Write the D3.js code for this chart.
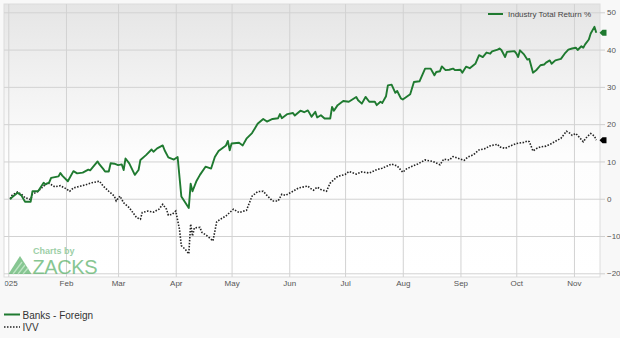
<!DOCTYPE html>
<html>
<head>
<meta charset="utf-8">
<script src="https://cdn.jsdelivr.net/npm/d3@7"></script>
<style>
  body { margin: 0; background: #f8f8f8; }
  svg { display: block; font-family: "Liberation Sans", Arial, sans-serif; }
  .axis text { fill: #555; font-size: 8px; }
  .axis path { display: none; }
  .grid line { stroke: #d2d2d2; stroke-width: 1; }
  .grid path { display: none; }
</style>
</head>
<body>
<div id="chart"></div>
<script>
// Banks - Foreign, industry total return %
var bankDates = ["2025-01-02","2025-01-03","2025-01-06","2025-01-08","2025-01-10","2025-01-13","2025-01-14","2025-01-17",
  "2025-01-20","2025-01-21","2025-01-23","2025-01-24","2025-01-28","2025-01-29","2025-01-30","2025-02-02","2025-02-05",
  "2025-02-07","2025-02-10","2025-02-13","2025-02-14","2025-02-18","2025-02-19","2025-02-21","2025-02-22","2025-02-24",
  "2025-02-25","2025-02-27","2025-03-01","2025-03-03","2025-03-04","2025-03-05","2025-03-07","2025-03-10","2025-03-12",
  "2025-03-13","2025-03-16","2025-03-19","2025-03-20","2025-03-22","2025-03-25","2025-03-26","2025-03-28","2025-03-31",
  "2025-04-02","2025-04-04","2025-04-08","2025-04-09","2025-04-10","2025-04-12","2025-04-14","2025-04-17","2025-04-20",
  "2025-04-22","2025-04-24","2025-04-28","2025-04-29","2025-04-30","2025-05-01","2025-05-05","2025-05-07","2025-05-09",
  "2025-05-12","2025-05-15","2025-05-18","2025-05-20","2025-05-23","2025-05-26","2025-05-27","2025-05-28","2025-05-31",
  "2025-06-03","2025-06-04","2025-06-07","2025-06-09","2025-06-11","2025-06-13","2025-06-15","2025-06-16","2025-06-18",
  "2025-06-20","2025-06-23","2025-06-24","2025-06-25","2025-06-27","2025-06-30","2025-07-03","2025-07-07","2025-07-08",
  "2025-07-10","2025-07-12","2025-07-14","2025-07-17","2025-07-18","2025-07-20","2025-07-21","2025-07-23","2025-07-24",
  "2025-07-26","2025-07-28","2025-07-29","2025-07-31","2025-08-01","2025-08-05","2025-08-07","2025-08-10","2025-08-13",
  "2025-08-16","2025-08-18","2025-08-19","2025-08-21","2025-08-22","2025-08-24","2025-08-26","2025-08-28","2025-08-29",
  "2025-09-01","2025-09-02","2025-09-04","2025-09-06","2025-09-09","2025-09-11","2025-09-13","2025-09-15","2025-09-17",
  "2025-09-18","2025-09-21","2025-09-22","2025-09-23","2025-09-25","2025-09-26","2025-09-30","2025-10-01","2025-10-02",
  "2025-10-03","2025-10-05","2025-10-07","2025-10-08","2025-10-10","2025-10-12","2025-10-14","2025-10-16","2025-10-17",
  "2025-10-19","2025-10-20","2025-10-22","2025-10-25","2025-10-27","2025-10-29","2025-10-31","2025-11-02","2025-11-03",
  "2025-11-05","2025-11-06","2025-11-07","2025-11-09","2025-11-10","2025-11-12","2025-11-13"];
var bankValues = [-0.2,0.4,1.6,0.9,-0.8,-0.8,2.0,2.0,
  4.3,3.8,4.4,5.6,6.0,6.9,6.2,4.7,7.4,
  6.8,7.0,7.8,7.6,10.0,9.2,8.0,7.3,7.3,
  9.5,9.4,9.0,9.2,7.7,10.8,9.5,6.4,7.7,
  10.4,11.7,13.2,12.6,13.5,14.3,13.0,11.1,10.5,
  11.2,0.6,-2.5,4.0,2.0,4.6,6.4,8.6,8.1,
  11.2,12.8,14.3,15.5,13.0,14.8,15.0,14.3,16.1,
  17.6,20.1,21.4,20.7,21.4,21.6,22.7,21.6,22.7,
  23.0,22.3,23.6,23.2,23.7,22.0,23.3,21.8,22.4,
  21.5,21.5,24.6,23.6,25.1,26.2,26.0,27.3,26.4,
  25.5,27.3,26.0,26.0,25.1,26.0,25.7,27.5,30.4,
  30.6,28.4,28.9,26.9,26.6,28.0,31.3,31.5,34.9,
  34.9,33.1,34.0,34.2,35.5,34.5,34.6,34.9,34.5,
  34.6,33.8,35.4,35.0,36.2,38.5,38.0,39.2,38.9,
  39.5,40.0,40.3,39.9,38.0,39.4,39.6,39.0,38.0,
  39.8,38.8,37.3,37.5,33.8,34.6,35.8,36.0,36.5,
  37.1,36.2,37.1,37.5,38.9,40.0,40.3,40.5,39.9,
  40.9,40.5,41.4,42.7,44.3,46.1,44.5];

// IVV total return %
var ivvDates = ["2025-01-02","2025-01-03","2025-01-06","2025-01-08","2025-01-10","2025-01-13","2025-01-14","2025-01-17",
  "2025-01-20","2025-01-22","2025-01-24","2025-01-26","2025-01-29","2025-02-01","2025-02-03","2025-02-05","2025-02-09",
  "2025-02-12","2025-02-15","2025-02-19","2025-02-21","2025-02-24","2025-02-27","2025-02-28","2025-03-02","2025-03-04",
  "2025-03-07","2025-03-11","2025-03-13","2025-03-14","2025-03-17","2025-03-20","2025-03-23","2025-03-25","2025-03-27",
  "2025-03-28","2025-03-30","2025-04-01","2025-04-03","2025-04-04","2025-04-06","2025-04-08","2025-04-09","2025-04-10",
  "2025-04-11","2025-04-14","2025-04-15","2025-04-18","2025-04-21","2025-04-23","2025-04-25","2025-04-28","2025-05-02",
  "2025-05-05","2025-05-09","2025-05-12","2025-05-15","2025-05-18","2025-05-20","2025-05-23","2025-05-26","2025-05-28",
  "2025-05-30","2025-06-03","2025-06-06","2025-06-11","2025-06-12","2025-06-14","2025-06-16","2025-06-18","2025-06-21",
  "2025-06-23","2025-06-27","2025-07-01","2025-07-03","2025-07-07","2025-07-10","2025-07-14","2025-07-18","2025-07-21",
  "2025-07-26","2025-07-29","2025-08-01","2025-08-03","2025-08-06","2025-08-09","2025-08-13","2025-08-17","2025-08-19",
  "2025-08-21","2025-08-23","2025-08-26","2025-08-28","2025-08-31","2025-09-03","2025-09-05","2025-09-08","2025-09-11",
  "2025-09-14","2025-09-17","2025-09-21","2025-09-22","2025-09-25","2025-09-28","2025-10-01","2025-10-05","2025-10-07",
  "2025-10-08","2025-10-10","2025-10-12","2025-10-14","2025-10-17","2025-10-20","2025-10-22","2025-10-25","2025-10-28",
  "2025-10-30","2025-10-31","2025-11-02","2025-11-04","2025-11-06","2025-11-08","2025-11-10","2025-11-12","2025-11-13"];
var ivvValues = [0,0.9,1.8,1.2,0.3,-0.2,1.2,2.0,
  3.4,4.3,3.8,3.2,3.5,2.7,2.0,2.9,3.4,
  3.8,4.3,4.7,3.4,2.0,0.7,-0.6,0.7,-1.1,
  -2.4,-5.1,-5.5,-3.7,-3.3,-3.6,-2.8,-1.5,-2.8,
  -4.4,-4.2,-3.3,-8.2,-12.6,-13.5,-14.8,-6.8,-10.0,
  -7.8,-7.7,-9.0,-10.0,-11.3,-6.2,-5.5,-4.6,-2.8,
  -3.7,-3.1,0.7,1.9,2.0,0.9,-0.6,-0.6,1.2,
  0.9,2.0,2.9,3.4,2.9,2.3,3.1,2.5,2.0,
  4.2,6.0,6.5,7.3,6.6,7.2,6.9,7.8,8.2,
  9.3,8.8,7.1,8.0,8.7,9.3,10.4,10.0,9.6,
  9.1,10.6,10.4,11.3,10.8,10.3,11.2,11.8,13.1,
  13.4,14.2,14.6,13.9,13.5,14.2,14.8,15.1,15.5,
  15.3,12.8,13.5,13.9,14.1,14.8,15.4,16.2,18.1,
  17.5,17.0,17.5,16.4,15.3,16.6,17.5,16.8,15.7];

var yTicks = [-20, -10, 0, 10, 20, 30, 40, 50];
var monthLabels = ["2025", "Feb", "Mar", "Apr", "May", "Jun", "Jul", "Aug", "Sep", "Oct", "Nov"];
var seriesNames = ["Banks - Foreign", "IVV"];

var width = 620, height = 338;
var frame = {x1: 4, y1: 4, x2: 600, y2: 277};
var green = "#1f7a30", dark = "#222";

var parse = d3.timeParse("%Y-%m-%d");
var bank = bankDates.map(function(d, i) { return {date: parse(d), value: bankValues[i]}; });
var ivv = ivvDates.map(function(d, i) { return {date: parse(d), value: ivvValues[i]}; });

var x = d3.scaleTime().domain([new Date(2025, 0, 1), new Date(2025, 10, 15)]).range([8.3, frame.x2]);
var y = d3.scaleLinear().domain([-20, 50]).range([273.3, 12.3]);

var svg = d3.select("#chart").append("svg").attr("width", width).attr("height", height);

var defs = svg.append("defs");
var grad = defs.append("linearGradient").attr("id", "bg").attr("x1", 0).attr("y1", 0).attr("x2", 0).attr("y2", 1);
grad.append("stop").attr("offset", "0%").attr("stop-color", "#e5e5e5");
grad.append("stop").attr("offset", "55%").attr("stop-color", "#fdfdfd");
grad.append("stop").attr("offset", "100%").attr("stop-color", "#ffffff");
// clip for the month labels, in the axis group's own coordinates
defs.append("clipPath").attr("id", "labelClip").append("rect")
    .attr("x", frame.x1 + 0.7).attr("y", 0).attr("width", frame.x2 - frame.x1).attr("height", 20);

// plot frame
svg.append("rect").attr("x", frame.x1).attr("y", frame.y1)
    .attr("width", frame.x2 - frame.x1).attr("height", frame.y2 - frame.y1)
    .attr("fill", "url(#bg)").attr("stroke", "#dcdcdc").attr("stroke-width", 1);

var months = d3.timeMonth.range(new Date(2025, 0, 1), new Date(2025, 10, 2));

// grid
svg.append("g").attr("class", "grid").attr("transform", "translate(0," + frame.y2 + ")")
    .call(d3.axisBottom(x).tickValues(months).tickSize(-(frame.y2 - frame.y1)).tickFormat(""));
svg.append("g").attr("class", "grid").attr("transform", "translate(" + frame.x1 + ",0)")
    .call(d3.axisRight(y).tickValues(yTicks).tickSize(frame.x2 - frame.x1).tickFormat(""));

// axes
svg.append("g").attr("class", "axis").attr("transform", "translate(" + frame.x2 + ",0)")
    .call(d3.axisRight(y).tickValues(yTicks).tickSize(5).tickPadding(2))
    .selectAll("line").attr("stroke", "#cfcfcf");
svg.append("g").attr("class", "axis").attr("clip-path", "url(#labelClip)")
    .attr("transform", "translate(0," + frame.y2 + ")")
    .call(d3.axisBottom(x).tickValues(months).tickSize(0).tickPadding(3)
        .tickFormat(function(d, i) { return monthLabels[i]; }));

// watermark
var wm = svg.append("g").attr("opacity", 0.75);
wm.append("path").attr("d", "M8.5,274 L20,256 L31.5,274 Z").attr("fill", "#5fb46e");
wm.append("path").attr("d", "M13,274 L22,262 M18,274 L25,265 M23,274 L28,268")
    .attr("stroke", "#a8dcb1").attr("stroke-width", 1.3);
wm.append("text").attr("x", 33).attr("y", 253.5).attr("font-size", "9px").attr("font-weight", "bold")
    .attr("fill", "#7cc08a").text("Charts by");
wm.append("text").attr("x", 32.5).attr("y", 274).attr("font-size", "20px")
    .attr("fill", "#5fb46e").attr("textLength", 65).text("ZACKS");

// lines
var line = d3.line().x(function(d) { return x(d.date); }).y(function(d) { return y(d.value); });
svg.append("path").datum(ivv).attr("d", line).attr("fill", "none")
    .attr("stroke", dark).attr("stroke-width", 1.6).attr("stroke-dasharray", "1.5,1.5");
svg.append("path").datum(bank).attr("d", line).attr("fill", "none")
    .attr("stroke", green).attr("stroke-width", 1.9).attr("stroke-linejoin", "round");

// last value markers
function marker(v, color) {
    svg.append("path").attr("transform", "translate(" + (frame.x2 - 0.5) + "," + y(v) + ")")
        .attr("d", "M0,0 L3,-3 L7,-3 L7,3 L3,3 Z").attr("fill", color);
}
marker(bankValues[bankValues.length - 1], green);
marker(ivvValues[ivvValues.length - 1], "#000");

// legend inside plot
svg.append("line").attr("x1", 488).attr("x2", 503).attr("y1", 14).attr("y2", 14)
    .attr("stroke", green).attr("stroke-width", 2);
svg.append("text").attr("x", 508).attr("y", 17).attr("font-size", "8px").attr("fill", "#444")
    .text("Industry Total Return %");

// legend below
var leg = svg.append("g").attr("font-size", "10px").attr("fill", "#333");
leg.append("line").attr("x1", 4).attr("x2", 20).attr("y1", 314.5).attr("y2", 314.5)
    .attr("stroke", green).attr("stroke-width", 2);
leg.append("text").attr("x", 22.5).attr("y", 318.5).text(seriesNames[0]);
leg.append("line").attr("x1", 4).attr("x2", 20).attr("y1", 327).attr("y2", 327)
    .attr("stroke", dark).attr("stroke-width", 1.5).attr("stroke-dasharray", "1.5,1.5");
leg.append("text").attr("x", 22.5).attr("y", 331).text(seriesNames[1]);
</script>
</body>
</html>
